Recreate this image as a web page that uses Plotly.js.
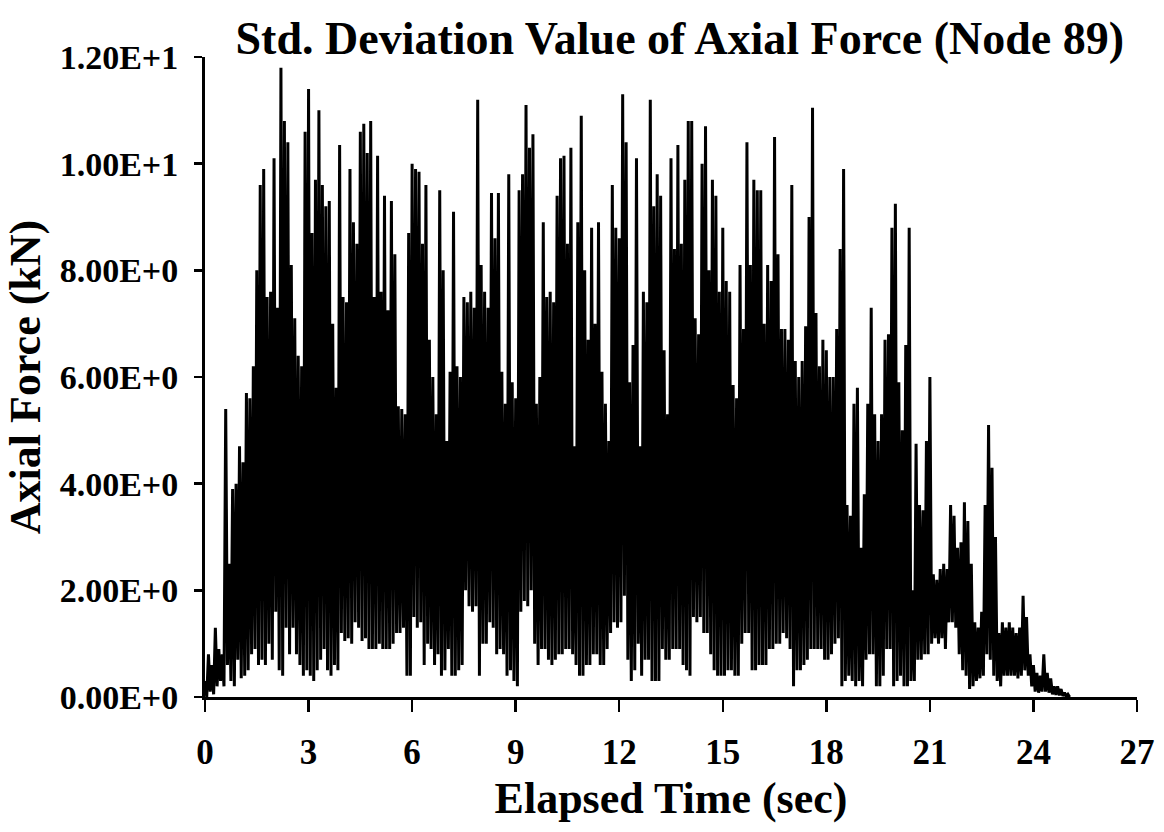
<!DOCTYPE html>
<html>
<head>
<meta charset="utf-8">
<script src="https://cdn.plot.ly/plotly-3.0.1.min.js"></script>
<style>
  html, body { margin: 0; padding: 0; background: #fff; }
  #chart { width: 1164px; height: 832px; }
</style>
</head>
<body>
<div id="chart"></div>
<script>
// Sampling grid of the envelope readings (sec)
const startTime = 0.0;
const timeStep = 0.1;

// Upper swing of the axial-force signal at each sample (kN), t = 0.0 ... 25.0 s
const peakHigh = [
  0.3, 0.8, 0.6, 1.3, 0.9, 0.8, 5.4, 2.5, 3.9, 4.0,
  4.7, 4.4, 5.7, 5.6, 6.2, 8.0, 9.6, 9.9, 7.5, 7.6,
  10.1, 7.3, 11.8, 10.8, 10.4, 8.1, 7.1, 6.4, 6.2, 10.6,
  11.4, 8.7, 9.7, 11.0, 9.6, 9.2, 9.3, 7.0, 5.8, 10.35,
  7.5, 7.4, 9.9, 8.9, 8.5, 10.6, 10.75, 10.2, 10.8, 7.5,
  10.15, 7.6, 9.4, 7.25, 9.3, 8.3, 5.45, 5.4, 5.3, 8.7,
  10.0, 9.9, 9.85, 8.5, 9.6, 6.7, 6.0, 5.3, 9.5, 8.0,
  4.8, 6.1, 9.1, 6.2, 6.0, 7.5, 7.4, 7.6, 7.3, 11.2,
  8.1, 7.6, 7.3, 9.45, 8.6, 9.45, 6.1, 5.5, 9.8, 5.9,
  5.6, 9.5, 9.8, 11.1, 10.3, 10.55, 5.5, 6.0, 8.9, 7.5,
  7.6, 7.4, 9.4, 10.1, 10.15, 8.5, 10.3, 4.7, 8.9, 10.9,
  8.0, 6.7, 8.8, 7.0, 8.9, 6.1, 5.5, 4.8, 9.6, 8.8,
  8.6, 11.3, 10.4, 5.9, 6.6, 10.1, 4.7, 7.6, 7.4, 11.2,
  9.2, 9.8, 9.4, 6.5, 5.3, 10.1, 8.4, 10.35, 8.5, 9.7,
  10.8, 10.8, 7.1, 6.8, 10.0, 10.7, 8.0, 9.7, 9.4, 7.6,
  8.8, 7.8, 7.6, 5.85, 5.6, 8.1, 6.9, 10.4, 8.1, 9.7,
  9.5, 9.5, 7.0, 8.1, 7.8, 10.5, 8.3, 6.9, 6.9, 6.7,
  9.6, 6.3, 6.0, 6.3, 6.95, 9.0, 11.05, 7.2, 6.2, 6.7,
  6.5, 6.0, 6.0, 6.9, 8.4, 9.9, 3.6, 3.4, 5.5, 5.8,
  2.8, 3.8, 5.5, 7.3, 5.3, 4.8, 5.3, 6.7, 6.8, 8.8,
  9.25, 5.9, 5.0, 6.6, 8.8, 2.0, 4.75, 3.6, 3.5, 4.8,
  6.0, 2.3, 2.2, 2.4, 2.5, 2.4, 3.6, 3.4, 2.8, 2.9,
  3.65, 3.3, 2.5, 1.4, 1.3, 1.6, 3.6, 5.1, 4.3, 3.0,
  1.2, 1.4, 1.3, 1.4, 1.3, 1.2, 1.3, 1.9, 1.5, 0.8,
  0.6, 0.45, 0.4, 0.8, 0.45, 0.35, 0.2, 0.2, 0.15, 0.08,
  0.05
];

// Lower swing of the signal, half a step after each high (kN)
const peakLow = [
  0.0, 0.1, 0.05, 0.2, 0.3, 0.2, 0.6, 0.3, 0.2, 0.7,
  0.35, 0.4, 0.5, 0.8, 0.9, 0.6, 0.7, 0.6, 1.0, 0.7,
  1.6, 0.5, 0.4, 1.3, 0.8, 1.3, 0.8, 0.6, 0.4, 0.5,
  0.4, 0.3, 0.5, 0.7, 0.9, 0.5, 0.4, 0.6, 0.5, 1.2,
  1.05, 1.1, 1.0, 1.4, 1.3, 1.05, 1.1, 0.9, 0.9, 0.9,
  1.0, 0.9, 0.9, 0.9, 1.0, 1.2, 1.2, 1.3, 0.4, 0.4,
  1.5, 1.3, 1.4, 0.6, 1.0, 0.9, 0.6, 0.8, 0.4, 0.5,
  0.9, 0.4, 0.4, 0.5, 0.6, 2.0, 1.7, 1.6, 1.7, 0.4,
  1.0, 1.0, 1.4, 1.3, 0.8, 0.9, 0.8, 0.4, 0.5, 0.3,
  0.2, 1.6, 1.8, 1.7, 2.0, 1.0, 0.6, 0.9, 0.9, 0.7,
  0.6, 0.7, 0.8, 0.8, 0.9, 0.9, 0.8, 0.6, 0.4, 0.4,
  0.6, 0.6, 0.8, 0.8, 0.6, 0.6, 0.9, 1.2, 1.4, 1.3,
  1.4, 1.9, 0.7, 0.3, 0.5, 1.0, 0.4, 0.7, 0.7, 0.3,
  0.3, 0.3, 0.9, 0.7, 0.7, 0.9, 0.9, 0.9, 0.6, 0.5,
  0.4, 1.5, 1.4, 1.5, 1.2, 1.2, 0.8, 0.5, 0.4, 0.4,
  0.4, 0.5, 0.5, 0.4, 0.4, 1.0, 1.2, 1.2, 0.5, 0.5,
  0.6, 0.6, 0.6, 0.9, 0.9, 1.0, 1.0, 1.2, 1.1, 0.9,
  0.2, 0.5, 0.5, 0.6, 0.7, 0.9, 0.9, 0.9, 0.9, 0.7,
  0.7, 0.8, 1.0, 1.1, 0.2, 0.3, 0.4, 0.3, 0.2, 0.3,
  0.2, 0.7, 0.8, 0.8, 0.2, 0.2, 0.4, 0.9, 0.9, 0.2,
  0.3, 0.4, 0.2, 0.2, 0.3, 0.3, 0.7, 0.7, 0.8, 0.8,
  1.0, 1.1, 1.0, 1.1, 0.9, 1.4, 1.4, 1.3, 0.8, 0.5,
  0.4, 0.15, 0.2, 0.3, 0.35, 0.4, 0.8, 0.7, 0.4, 0.3,
  0.2, 0.4, 0.4, 0.4, 0.4, 0.35, 0.4, 0.5, 0.4, 0.2,
  0.1, 0.08, 0.1, 0.1, 0.08, 0.05, 0.04, 0.03, 0.02, 0.01,
  0.0
];

// Axis ticks
const xTickVals = [0, 3, 6, 9, 12, 15, 18, 21, 24, 27];
const yTickVals = [0, 2, 4, 6, 8, 10, 12];
const yTickText = ["0.00E+0", "2.00E+0", "4.00E+0", "6.00E+0", "8.00E+0", "1.00E+1", "1.20E+1"];

// Build the oscillating trace from the readings
const tSeries = [];
const fSeries = [];
for (let i = 0; i < peakHigh.length; i++) {
  const t = startTime + i * timeStep;
  tSeries.push(t);
  fSeries.push(peakHigh[i]);
  tSeries.push(t + timeStep / 2);
  fSeries.push(peakLow[i]);
}

const fontFam = '"Liberation Serif", "Times New Roman", Times, serif';

const trace = {
  x: tSeries,
  y: fSeries,
  type: 'scatter',
  mode: 'lines',
  line: { color: '#000000', width: 3 },
  hoverinfo: 'x+y',
  showlegend: false
};

const layout = {
  width: 1164,
  height: 832,
  paper_bgcolor: '#ffffff',
  plot_bgcolor: '#ffffff',
  margin: { l: 205, r: 27, t: 57, b: 135 },
  title: {
    text: '<b>Std. Deviation Value of Axial Force (Node 89)</b>',
    font: { family: fontFam, size: 46, color: '#000' },
    x: 0.584, xref: 'container', xanchor: 'center',
    y: 0.955, yref: 'container', yanchor: 'middle'
  },
  xaxis: {
    range: [0, 27],
    tickmode: 'array',
    tickvals: xTickVals,
    ticktext: xTickVals.map(String),
    ticks: 'outside', ticklen: 12, tickwidth: 2.5, tickcolor: '#000',
    ticklabelstandoff: 10,
    showline: true, linecolor: '#000', linewidth: 3,
    showgrid: false, zeroline: false,
    tickfont: { family: fontFam, size: 35, color: '#000', weight: 'bold' },
    title: {
      text: '<b>Elapsed Time (sec)</b>',
      font: { family: fontFam, size: 44, color: '#000' },
      standoff: 12
    }
  },
  yaxis: {
    range: [0, 12],
    tickmode: 'array',
    tickvals: yTickVals,
    ticktext: yTickText,
    ticks: 'outside', ticklen: 8, tickwidth: 2.5, tickcolor: '#000',
    ticklabelstandoff: 9,
    showline: true, linecolor: '#000', linewidth: 3,
    showgrid: false, zeroline: false,
    tickfont: { family: fontFam, size: 34, color: '#000', weight: 'bold' },
    title: {
      text: '<b>Axial Force (kN)</b>',
      font: { family: fontFam, size: 44, color: '#000' },
      standoff: 6
    }
  }
};

Plotly.newPlot('chart', [trace], layout, { displayModeBar: false, staticPlot: true });
</script>
</body>
</html>
